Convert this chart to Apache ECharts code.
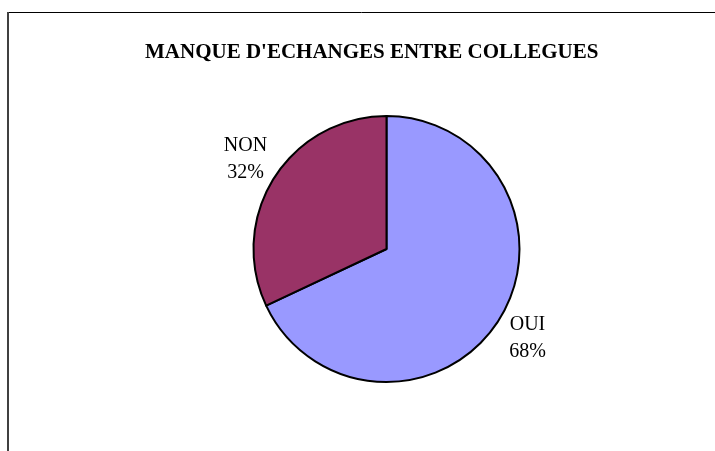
<!DOCTYPE html>
<html>
<head>
<meta charset="utf-8">
<script src="https://cdn.jsdelivr.net/npm/echarts@6/dist/echarts.min.js"></script>
<style>
html,body{margin:0;padding:0;background:#fff;}
#main{width:715px;height:451px;}
</style>
</head>
<body>
<div id="main"></div>
<script>
const titleText = "MANQUE D'ECHANGES ENTRE COLLEGUES";
const categories = ['OUI', 'NON'];
const values = [68, 32];
const colors = ['#9999FF', '#993366'];

const CX = 386.5, CY = 249, R = 133, LABEL_R = 167;
const total = values.reduce((a, b) => a + b, 0);

const chart = echarts.init(document.getElementById('main'), null, {renderer: 'canvas'});
chart.setOption({
  backgroundColor: '#ffffff',
  animation: false,
  title: {
    text: titleText,
    left: 140,
    top: 37,
    textStyle: {fontFamily: 'Liberation Serif', fontWeight: 'bold', fontSize: 21, color: '#000'}
  },
  graphic: [
    {type: 'line', shape: {x1: 8, y1: 12.5, x2: 715, y2: 12.5}, style: {stroke: '#000', lineWidth: 1}},
    {type: 'line', shape: {x1: 8, y1: 12, x2: 8, y2: 451}, style: {stroke: '#404040', lineWidth: 2}}
  ],
  series: [{
    type: 'pie',
    center: [CX, CY],
    radius: [0, R],
    startAngle: 90,
    clockwise: true,
    data: categories.map((c, i) => ({name: c, value: values[i], itemStyle: {color: colors[i]}})),
    itemStyle: {borderColor: '#000', borderWidth: 2},
    label: {
      show: true,
      position: 'outside',
      formatter: p => p.name + '\n' + Math.round(p.value / total * 100) + '%',
      fontFamily: 'Liberation Serif',
      fontSize: 20,
      lineHeight: 27,
      color: '#000'
    },
    labelLine: {show: false},
    labelLayout: function (params) {
      const i = params.dataIndex;
      let before = 0;
      for (let k = 0; k < i; k++) before += values[k];
      const mid = (before + values[i] / 2) / total * 2 * Math.PI;
      return {
        x: CX + LABEL_R * Math.sin(mid),
        y: CY - LABEL_R * Math.cos(mid),
        align: 'center',
        verticalAlign: 'middle'
      };
    },
    emphasis: {disabled: true}
  }]
});
</script>
</body>
</html>
